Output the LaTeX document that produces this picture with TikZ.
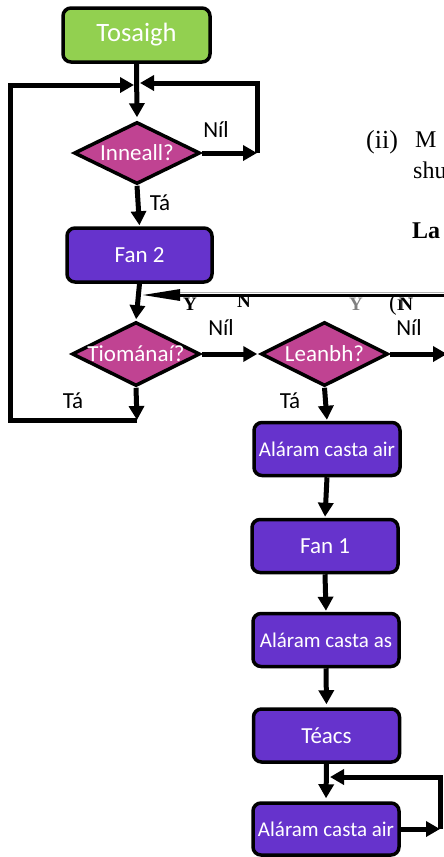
\documentclass[tikz,border=0pt]{standalone}
\usepackage{fontspec}
\setmainfont{Liberation Serif}
\newfontfamily\calib{Carlito}
\usetikzlibrary{shapes.geometric,arrows.meta}
\definecolor{grn}{HTML}{92D050}
\definecolor{mag}{HTML}{C04392}
\definecolor{purp}{HTML}{6633CC}
\tikzset{
  flowbox/.style={draw=black, line width=3.5pt, rounded corners=8pt, fill=purp,
    minimum width=146pt, minimum height=53pt, inner sep=0pt, text=white,
    font=\calib\fontsize{23}{27}\selectfont},
  smallbox/.style={flowbox, font=\calib\fontsize{21}{25}\selectfont},
  decision/.style={diamond, draw=black, line width=3.5pt, fill=mag, inner sep=0pt,
    minimum width=127pt, minimum height=63pt, text=white,
    font=\calib\fontsize{23}{27}\selectfont},
  lbl/.style={font=\calib\fontsize{23}{27}\selectfont, inner sep=0pt},
  conn/.style={line width=5pt, line join=miter},
  arr/.style={conn, -{Triangle[length=14pt,width=15pt]}},
  stray/.style={font=\fontsize{24}{28}\selectfont, inner sep=0pt, anchor=base west},
  strayb/.style={font=\bfseries\fontsize{19}{22}\selectfont, inner sep=0pt, anchor=base west}
}
\begin{document}
\begin{tikzpicture}[x=1pt,y=-1pt]
\useasboundingbox (0,0) rectangle (444,857);
% nodes
\node[flowbox, fill=grn, minimum width=147pt, minimum height=54pt,
  font=\calib\fontsize{26.5}{30}\selectfont] (start) at (136.5,35) {Tosaigh};
\node[decision, minimum width=126pt, minimum height=62pt] (inn) at (137,153) {\makebox[0pt]{Inneall?}};
\node[flowbox, minimum width=145pt, minimum height=54pt] (fan2) at (139.5,255) {Fan 2};
\node[decision, minimum width=128pt, minimum height=64pt] (tio) at (136,354) {\makebox[0pt]{Tiománaí?}};
\node[decision, minimum width=127pt, minimum height=64pt] (lea) at (324.5,354) {\makebox[0pt]{Leanbh?}};
\node[smallbox] (b1) at (327,449) {Aláram casta air};
\node[flowbox] (fan1) at (325,546) {Fan 1};
\node[smallbox] (b3) at (326,640) {Aláram casta as};
\node[flowbox] (teacs) at (326.5,735.5) {Téacs};
\node[smallbox, minimum height=52pt] (b5) at (326,829) {Aláram casta air};
% coordinates
\coordinate (jl) at (134,85);
\coordinate (lt) at (10,85);
\coordinate (lc) at (10,420);
\coordinate (tb) at (137,420);
\coordinate (ir) at (257,153);
\coordinate (rt) at (257,83);
\coordinate (jr) at (140,83);
\coordinate (le) at (447,354);
\coordinate (ls) at (444,295);
\coordinate (la) at (142,295);
\coordinate (br) at (440,829);
\coordinate (bt) at (440,777);
\coordinate (bj) at (330,777);
% connectors
\draw[arr, shorten >=3pt] (start.south) -- (inn.north);
\draw[arr] (inn.east) -- (ir);
\draw[arr] (ir) -- (rt) -- (jr);
\draw[arr] (tb) -- (lc) -- (lt) -- (jl);
\draw[arr, shorten >=1pt] (inn.south) -- (fan2.north);
\draw[arr, shorten >=1pt] (fan2.south) -- (tio.north);
\draw[arr] (tio.south) -- (tb);
\draw[arr, shorten >=2pt] (tio.east) -- (lea.west);
\draw[arr] (lea.east) -- (le);
\draw[arr, shorten >=1pt] (lea.south) -- (b1.north);
\draw[arr, shorten >=1pt] (b1.south) -- (fan1.north);
\draw[arr, shorten >=1pt] (fan1.south) -- (b3.north);
\draw[arr, shorten >=3pt] (b3.south) -- (teacs.north);
\draw[arr, shorten >=3pt] (teacs.south) -- (b5.north);
\draw[arr] (b5.east) -- (br);
\draw[arr] (br) -- (bt) -- (bj);
% stray line
\draw[gray!60, line width=0.8pt] (176,292) -- (444,292);
\draw[line width=3pt, -{Triangle[length=38pt,width=11pt]}] (ls) -- (la);
% labels
\node[lbl] (l1) at (216,130) {Níl};
\node[lbl] (l2) at (160,203) {Tá};
\node[lbl] (l3) at (221,328) {Níl};
\node[lbl] (l4) at (409,328) {Níl};
\node[lbl] (l5) at (73,401) {Tá};
\node[lbl] (l6) at (290,401) {Tá};
% stray texts
\node[stray, font=\fontsize{26}{30}\selectfont] (s1) at (366,148) {(ii)};
\node[stray] (s1b) at (415,147) {M};
\node[stray] (s2) at (413,178) {shu};
\node[stray, font=\bfseries\fontsize{24}{28}\selectfont] (s3) at (412,238) {La};
\node[strayb] (y1) at (183,310) {Y};
\node[strayb] (n1) at (237,307) {N};
\node[strayb, text=gray] (y2) at (349,310) {Y};
\node[strayb] (n2) at (389,310) {{\mdseries\fontsize{23}{26}\selectfont(i}\kern-4ptN};
\end{tikzpicture}
\end{document}
